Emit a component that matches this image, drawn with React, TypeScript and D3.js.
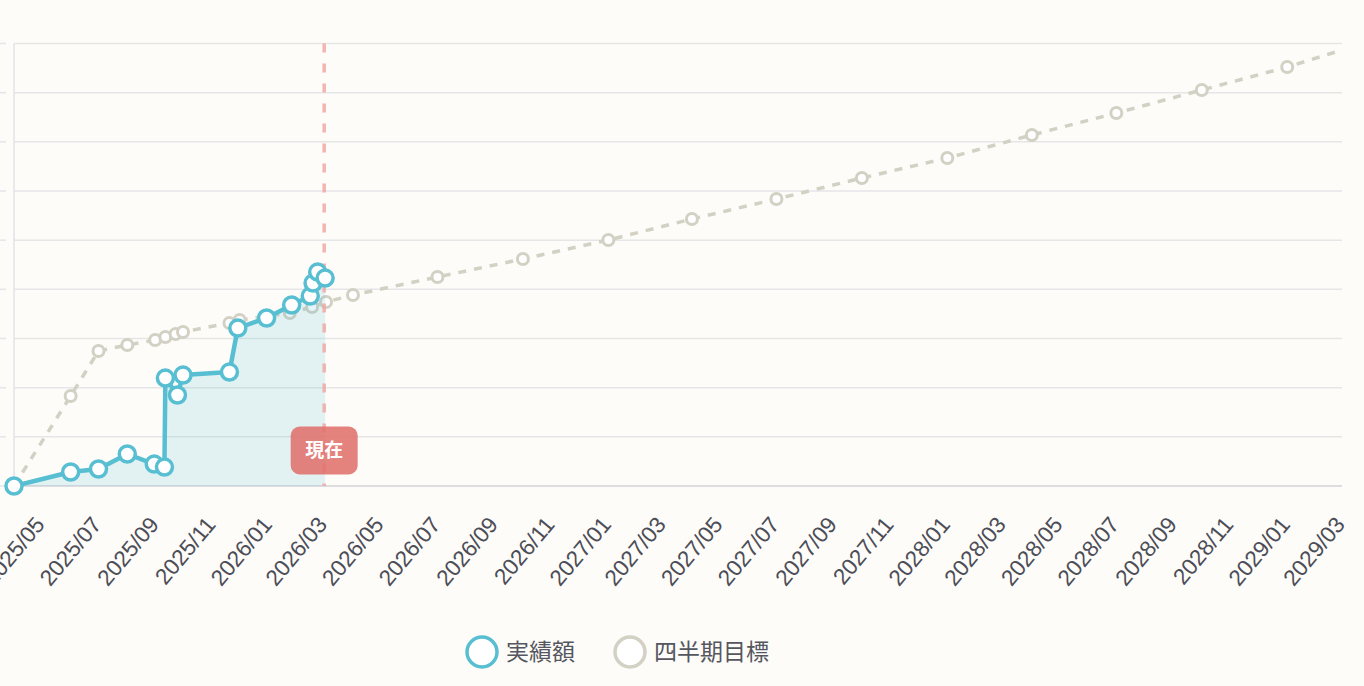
import { useEffect, useRef } from 'react';
import * as d3 from 'd3';

// 実績額 (actual amounts)
const actualDates = [
  '2025-04-01', '2025-06-01', '2025-07-01', '2025-08-01', '2025-08-30', '2025-09-10',
  '2025-09-11', '2025-09-24', '2025-09-30', '2025-11-19', '2025-11-28', '2025-12-29',
  '2026-01-25', '2026-02-14', '2026-02-17', '2026-02-22', '2026-03-02',
];
const actualValues = [
  0, 285, 346, 651, 447, 386,
  2196, 1851, 2257, 2318, 3213, 3417,
  3681, 3864, 4128, 4352, 4230,
];

// 四半期目標 (quarterly targets)
const targetDates = [
  '2025-04-01', '2025-06-01', '2025-07-01', '2025-08-01', '2025-08-31', '2025-09-11',
  '2025-09-22', '2025-09-30', '2025-11-19', '2025-11-30', '2026-01-23', '2026-02-16',
  '2026-03-03', '2026-04-01', '2026-07-01', '2026-10-01', '2027-01-01', '2027-04-01',
  '2027-07-01', '2027-10-01', '2028-01-01', '2028-04-01', '2028-07-01', '2028-10-01',
  '2029-01-01', '2029-04-01',
];
const targetValues = [
  0, 1830, 2746, 2868, 2969, 3030,
  3091, 3132, 3315, 3376, 3518, 3640,
  3742, 3884, 4251, 4617, 5003, 5430,
  5837, 6264, 6671, 7139, 7586, 8054,
  8521, 9050,
];

const xTicks = [
  '2025-05', '2025-07', '2025-09', '2025-11', '2026-01', '2026-03', '2026-05', '2026-07',
  '2026-09', '2026-11', '2027-01', '2027-03', '2027-05', '2027-07', '2027-09', '2027-11',
  '2028-01', '2028-03', '2028-05', '2028-07', '2028-09', '2028-11', '2029-01', '2029-03',
];
const yTicks = [0, 1000, 2000, 3000, 4000, 5000, 6000, 7000, 8000, 9000];

const xDomain = ['2025-04-01', '2029-03-01'];
const nowDate = '2026-03-01';
const nowLabel = '現在';
const seriesNames = ['実績額', '四半期目標'];

const W = 1364;
const H = 686;
const plot = { left: 14, right: 1342, top: 43.5, bottom: 486 };

const TEAL = '#58bfd2';
const GREY = '#d3d0c4';
const BG = '#fdfcf9';

function App() {
  const svgRef = useRef<SVGSVGElement>(null);

  useEffect(() => {
    if (svgRef.current === null) return;
    const parseDay = d3.timeParse('%Y-%m-%d');
    const parseMonth = d3.timeParse('%Y-%m');
    const fmt = d3.timeFormat('%Y/%m');

    const x = d3
      .scaleTime()
      .domain(xDomain.map((d) => parseDay(d) as Date))
      .range([plot.left, plot.right]);
    const y = d3
      .scaleLinear()
      .domain([0, 9000])
      .range([plot.bottom, plot.top]);

    const actual = actualDates.map((d, i) => ({ date: parseDay(d) as Date, value: actualValues[i] }));
    const target = targetDates.map((d, i) => ({ date: parseDay(d) as Date, value: targetValues[i] }));

    const svg = d3.select(svgRef.current);
    svg.selectAll('*').remove();
    svg.attr('width', W).attr('height', H);

    svg.append('rect').attr('width', W).attr('height', H).attr('fill', BG);

    svg
      .append('defs')
      .append('clipPath')
      .attr('id', 'plot-clip')
      .append('rect')
      .attr('x', plot.left)
      .attr('y', plot.top - 12)
      .attr('width', plot.right - plot.left)
      .attr('height', plot.bottom - plot.top + 24);

    // grid
    const grid = svg.append('g');
    yTicks.forEach((t) => {
      grid
        .append('line')
        .attr('x1', plot.left)
        .attr('x2', plot.right)
        .attr('y1', y(t))
        .attr('y2', y(t))
        .attr('stroke', t === 0 ? '#d2d2d6' : '#e6e5e8')
        .attr('stroke-width', 1.5);
      grid
        .append('line')
        .attr('x1', -4)
        .attr('x2', 6)
        .attr('y1', y(t))
        .attr('y2', y(t))
        .attr('stroke', '#e6e5e8')
        .attr('stroke-width', 1.5);
    });
    grid
      .append('line')
      .attr('x1', plot.left)
      .attr('x2', plot.left)
      .attr('y1', plot.top)
      .attr('y2', plot.bottom)
      .attr('stroke', '#e3e2e5')
      .attr('stroke-width', 1.5);

    // x tick labels
    const labels = svg.append('g').attr('font-family', '"Liberation Sans", Arial, sans-serif').attr('font-size', 22.5).attr('fill', '#4c4d57');
    xTicks.forEach((t) => {
      const d = parseMonth(t) as Date;
      const px = x(d) - 2;
      labels
        .append('text')
        .attr('transform', `translate(${px}, 520) rotate(-50)`)
        .attr('text-anchor', 'end')
        .attr('dy', '0.35em')
        .text(fmt(d));
    });

    const body = svg.append('g').attr('clip-path', 'url(#plot-clip)');

    // target line
    const line = d3
      .line<{ date: Date; value: number }>()
      .x((d) => x(d.date))
      .y((d) => y(d.value));

    body
      .append('path')
      .datum(target)
      .attr('d', line)
      .attr('fill', 'none')
      .attr('stroke', GREY)
      .attr('stroke-width', 3.5)
      .attr('stroke-dasharray', '8,8');

    body
      .selectAll('circle.target')
      .data(target)
      .enter()
      .append('circle')
      .attr('class', 'target')
      .attr('cx', (d) => x(d.date))
      .attr('cy', (d) => y(d.value))
      .attr('r', 5.5)
      .attr('fill', '#fff')
      .attr('stroke', GREY)
      .attr('stroke-width', 3);

    // actual area + line
    const area = d3
      .area<{ date: Date; value: number }>()
      .x((d) => x(d.date))
      .y0(y(0))
      .y1((d) => y(d.value));

    body
      .append('path')
      .datum(actual)
      .attr('d', area)
      .attr('fill', TEAL)
      .attr('fill-opacity', 0.16);

    // now line
    const nx = x(parseDay(nowDate) as Date);
    svg
      .append('line')
      .attr('x1', nx)
      .attr('x2', nx)
      .attr('y1', plot.top)
      .attr('y2', plot.bottom)
      .attr('stroke', '#eea9a5')
      .attr('stroke-opacity', 0.85)
      .attr('stroke-width', 3.5)
      .attr('stroke-dasharray', '9,11');

    body
      .append('path')
      .datum(actual)
      .attr('d', line)
      .attr('fill', 'none')
      .attr('stroke', TEAL)
      .attr('stroke-width', 4.5)
      .attr('stroke-linejoin', 'round');

    svg
      .selectAll('circle.actual')
      .data(actual)
      .enter()
      .append('circle')
      .attr('class', 'actual')
      .attr('cx', (d) => x(d.date))
      .attr('cy', (d) => y(d.value))
      .attr('r', 8)
      .attr('fill', '#fff')
      .attr('stroke', TEAL)
      .attr('stroke-width', 3.5);

    // now label
    const tag = svg.append('g').attr('transform', `translate(${nx}, 450.5)`);
    tag
      .append('rect')
      .attr('x', -33.5)
      .attr('y', -24)
      .attr('width', 67)
      .attr('height', 48)
      .attr('rx', 9)
      .attr('fill', '#e0716c')
      .attr('fill-opacity', 0.88);
    tag
      .append('text')
      .attr('text-anchor', 'middle')
      .attr('dy', '0.36em')
      .attr('font-family', '"Noto Sans CJK JP", sans-serif')
      .attr('font-weight', 700)
      .attr('font-size', 19)
      .attr('fill', '#fff')
      .text(nowLabel);

    // legend
    const legend = svg.append('g').attr('font-family', '"Noto Sans CJK JP", sans-serif').attr('font-size', 23).attr('fill', '#55565f');
    const legendItems = [
      { name: seriesNames[0], color: TEAL, cx: 482, tx: 506 },
      { name: seriesNames[1], color: GREY, cx: 630, tx: 654 },
    ];
    legendItems.forEach((it) => {
      legend
        .append('circle')
        .attr('cx', it.cx)
        .attr('cy', 652)
        .attr('r', 15)
        .attr('fill', '#fff')
        .attr('stroke', it.color)
        .attr('stroke-width', 3.5);
      legend
        .append('text')
        .attr('x', it.tx)
        .attr('y', 652)
        .attr('dy', '0.36em')
        .text(it.name);
    });
  }, []);

  return <svg ref={svgRef} style={{ position: 'absolute', left: 0, top: 0, display: 'block' }} />;
}

export default App;
